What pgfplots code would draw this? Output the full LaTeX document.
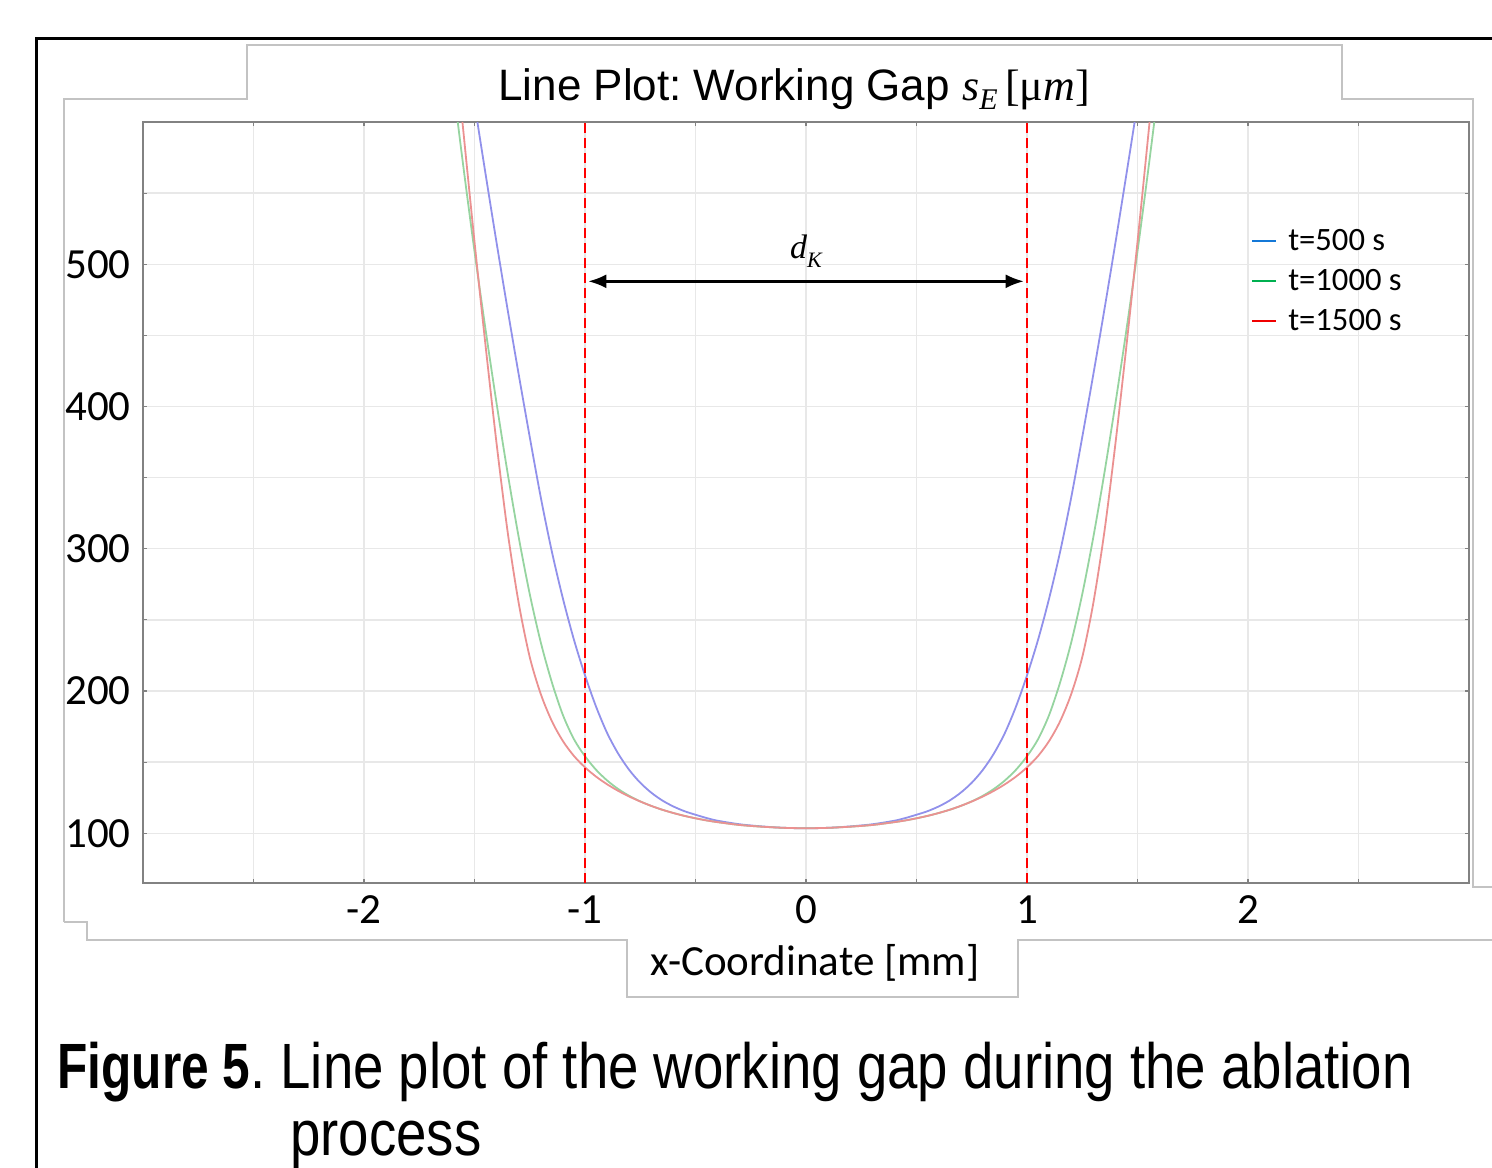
\documentclass[border=0pt]{standalone}
\usepackage{fontspec}
\usepackage{pgfplots}
\pgfplotsset{compat=1.18}
\usetikzlibrary{arrows.meta}
\newfontfamily\carlito{Carlito}
\newfontfamily\arial{Liberation Sans}
\newfontfamily\tnr{Liberation Serif}
\definecolor{pblue}{RGB}{145,145,235}
\definecolor{pgreen}{RGB}{150,212,160}
\definecolor{pred}{RGB}{235,145,145}
\definecolor{lblue}{RGB}{20,120,215}
\definecolor{lgreen}{RGB}{0,176,80}
\definecolor{lred}{RGB}{240,0,0}
\definecolor{framegray}{RGB}{195,195,195}
\definecolor{gridgray}{RGB}{232,232,232}
\definecolor{axgray}{RGB}{130,130,130}
\frenchspacing
\begin{document}
\begin{tikzpicture}
\path[use as bounding box] (0,0) rectangle (746pt,-583.5pt);
\begin{scope}[x=0.5pt,y=-0.5pt]
  \draw[framegray, line width=0.6pt] (64,922) -- (64,99) -- (247,99) -- (247,45) -- (1342,45) -- (1342,99) -- (1473,99) -- (1473,887) -- (1495,887);
  \draw[framegray, line width=0.6pt] (64,922) -- (87,922) -- (87,940) -- (627,940) -- (627,997) -- (1018,997) -- (1018,940) -- (1495,940);
  \draw[black, line width=1.5pt] (36,1170) -- (36,38) -- (1495,38);
  \node[anchor=base, inner sep=0pt] at (794,100) {\arial\fontsize{22}{26}\selectfont Line Plot: Working Gap {\tnr{\itshape s}\raisebox{-0.22em}{\fontsize{15}{17}\selectfont\itshape E}\,[μ{\itshape m}]}};
  \node[anchor=base, inner sep=0pt] at (815,975) {\carlito\fontsize{21.5}{24}\selectfont x-Coordinate [mm]};
  \node[anchor=base west, inner sep=0pt] at (57,1088) {\arial\fontsize{32}{38}\selectfont\scalebox{0.775}[1]{\textbf{Figure 5}}\scalebox{0.853}[1]{. Line plot of the working gap during the ablation}};
  \node[anchor=base west, inner sep=0pt] at (290,1155) {\arial\fontsize{32}{38}\selectfont\scalebox{0.853}[1]{process}};
\end{scope}
\begin{axis}[
  at={(71.5pt,-441.5pt)}, anchor=south west,
  scale only axis, width=663pt, height=380.5pt,
  xmin=-3, xmax=3, ymin=65, ymax=600,
  xtick={-2,-1,0,1,2}, xticklabels={-2,-1,0,1,2},
  minor xtick={-2.5,-1.5,-0.5,0.5,1.5,2.5},
  ytick={100,200,300,400,500}, yticklabels={100,200,300,400,500},
  minor ytick={150,250,350,450,550},
  grid=both,
  major grid style={gridgray, line width=0.7pt},
  minor grid style={gridgray, line width=0.7pt},
  axis line style={axgray, line width=0.7pt},
  tick align=inside,
  major tick length=2pt, minor tick length=2pt,
  every tick/.style={axgray, line width=0.6pt},
  ticklabel style={font=\carlito\fontsize{21.5}{24}\selectfont},
  xticklabel style={anchor=north, inner sep=0pt, yshift=-6pt},
  yticklabel style={anchor=east, inner sep=0pt, xshift=-6pt},
  legend style={at={(axis description cs:0.831,0.869)}, anchor=north west, draw=none, fill=none,
     font=\carlito\fontsize{16.3}{18}\selectfont, row sep=5pt,
     nodes={inner sep=0pt, text height=12pt, text depth=3pt},
     /tikz/every odd column/.append style={column sep=5.5pt}},
  legend cell align=left,
  legend image code/.code={\draw[#1, line width=1pt] (0pt,0pt) -- (12pt,0pt);},
]
\addlegendimage{lblue}
\addlegendimage{lgreen}
\addlegendimage{lred}
\legend{t=500 s, t=1000 s, t=1500 s}

% t=500 s
\addplot[pblue, line width=0.9pt, smooth, forget plot] coordinates {
(-1.55,663.5) (-1.5,613) (-1.45,563.5) (-1.4,515) (-1.35,468) (-1.3,422.5) (-1.25,378.5) (-1.2,336) (-1.15,298) (-1.1,265) (-1.05,236) (-1.0,211) (-0.95,189) (-0.9,170.5) (-0.85,156) (-0.8,144.5) (-0.75,135.5) (-0.7,128.5) (-0.65,123) (-0.6,118.8) (-0.55,115.5) (-0.5,113) (-0.45,110.7) (-0.4,108.8) (-0.3,106.3) (-0.2,104.8) (-0.1,103.8)
(0,103.5)
(0.1,103.8) (0.2,104.8) (0.3,106.3) (0.4,108.8) (0.45,110.7) (0.5,113) (0.55,115.5) (0.6,118.8) (0.65,123) (0.7,128.5) (0.75,135.5) (0.8,144.5) (0.85,156) (0.9,170.5) (0.95,189) (1.0,211) (1.05,236) (1.1,265) (1.15,298) (1.2,336) (1.25,378.5) (1.3,422.5) (1.35,468) (1.4,515) (1.45,563.5) (1.5,613) (1.55,663.5)
};
% t=1000 s
\addplot[pgreen, line width=0.9pt, smooth, forget plot] coordinates {
(-1.65,693.6) (-1.6,630.1) (-1.55,568.1) (-1.5,509.1) (-1.45,454.1) (-1.4,402.1) (-1.35,353.1) (-1.3,308.1) (-1.25,268.1) (-1.2,234.1) (-1.15,206.1) (-1.1,183.1) (-1.05,166.1) (-1.0,154.1) (-0.95,144.6) (-0.9,137.1) (-0.85,131.1) (-0.8,126.3) (-0.75,122.4) (-0.7,119.2) (-0.65,116.5) (-0.6,114.2) (-0.55,112.2) (-0.5,110.5) (-0.45,109) (-0.4,107.8) (-0.3,105.8) (-0.2,104.6) (-0.1,103.8)
(0,103.5)
(0.1,103.8) (0.2,104.6) (0.3,105.8) (0.4,107.8) (0.45,109) (0.5,110.5) (0.55,112.2) (0.6,114.2) (0.65,116.5) (0.7,119.2) (0.75,122.4) (0.8,126.3) (0.85,131.1) (0.9,137.1) (0.95,144.6) (1.0,154.1) (1.05,166.1) (1.1,183.1) (1.15,206.1) (1.2,234.1) (1.25,268.1) (1.3,308.1) (1.35,353.1) (1.4,402.1) (1.45,454.1) (1.5,509.1) (1.55,568.1) (1.6,630.1) (1.65,693.6)
};
% t=1500 s
\addplot[pred, line width=0.9pt, smooth, forget plot] coordinates {
(-1.6,671.8) (-1.55,592.8) (-1.5,515.8) (-1.45,442.8) (-1.4,373.8) (-1.35,311.8) (-1.3,261.8) (-1.25,223.8) (-1.2,197.8) (-1.15,178.8) (-1.1,164.8) (-1.05,154.3) (-1.0,146.3) (-0.95,139.8) (-0.9,134.4) (-0.85,129.8) (-0.8,125.8) (-0.75,122.3) (-0.7,119.2) (-0.65,116.5) (-0.6,114.2) (-0.55,112.2) (-0.5,110.5) (-0.45,109) (-0.4,107.8) (-0.3,105.8) (-0.2,104.6) (-0.1,103.8)
(0,103.5)
(0.1,103.8) (0.2,104.6) (0.3,105.8) (0.4,107.8) (0.45,109) (0.5,110.5) (0.55,112.2) (0.6,114.2) (0.65,116.5) (0.7,119.2) (0.75,122.3) (0.8,125.8) (0.85,129.8) (0.9,134.4) (0.95,139.8) (1.0,146.3) (1.05,154.3) (1.1,164.8) (1.15,178.8) (1.2,197.8) (1.25,223.8) (1.3,261.8) (1.35,311.8) (1.4,373.8) (1.45,442.8) (1.5,515.8) (1.55,592.8) (1.6,671.8)
};
% boundaries
\addplot[red, line width=1.4pt, dash pattern=on 5pt off 2.5pt, forget plot] coordinates {(-1,65) (-1,600)};
\addplot[red, line width=1.4pt, dash pattern=on 5pt off 2.5pt, forget plot] coordinates {(1,65) (1,600)};
\draw[black, line width=1.2pt, {Latex[length=9pt,width=7pt]}-{Latex[length=9pt,width=7pt]}] (axis cs:-0.985,488) -- (axis cs:0.985,488);
\node[inner sep=0pt] at (axis cs:0,509) {\tnr\fontsize{17}{19}\selectfont\itshape d\raisebox{-0.25em}{\fontsize{11}{12}\selectfont K}};
\end{axis}
\end{tikzpicture}
\end{document}
